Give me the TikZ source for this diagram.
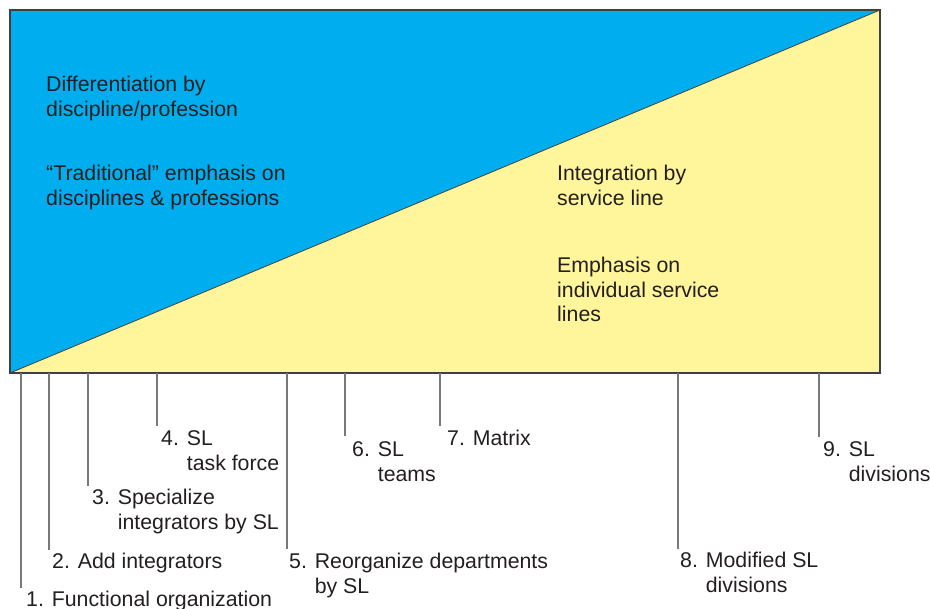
\documentclass[tikz,border=0pt]{standalone}
\usepackage{fontspec}
\setmainfont{Liberation Sans}
\definecolor{skyblue}{RGB}{0,174,239}
\definecolor{paleyellow}{RGB}{255,245,155}
\definecolor{inkgray}{RGB}{35,31,32}
\definecolor{edgegray}{RGB}{64,64,64}
\definecolor{tickgray}{RGB}{120,120,120}
% fixed-height strut so every label's top sits a known distance above its first baseline
\newcommand\lnstrut{\rule{0pt}{16pt}}
\begin{document}
\begin{tikzpicture}[x=1pt,y=-1pt,
  txt/.style={anchor=north west, inner sep=0pt, align=left, text=inkgray,
              font=\fontsize{21.3}{24.9}\selectfont},
  tickline/.style={draw=tickgray, line width=1.2pt},
  ]
\useasboundingbox (0,0) rectangle (930,609);

% the two triangles of the box
\coordinate (tl) at (10,10);
\coordinate (tr) at (880,10);
\coordinate (bl) at (10,373);
\coordinate (br) at (880,373);
\fill[skyblue] (bl) -- (tl) -- (tr) -- cycle;
\fill[paleyellow] (bl) -- (tr) -- (br) -- cycle;
\draw[edgegray, line width=0.8pt] (bl) -- (tr);
\draw[edgegray, line width=1.3pt] (tl) rectangle (br);

% texts inside the box
\node[txt] (diff) at (46,75) {\lnstrut Differentiation by\\discipline/profession};
\node[txt] (trad) at (46,164) {\lnstrut “Traditional” emphasis on\\disciplines \& professions};
\node[txt] (integ) at (557,164) {\lnstrut Integration by\\service line};
\node[txt] (emph) at (557,256) {\lnstrut Emphasis on\\individual service\\lines};

% stages along the bottom edge
\coordinate (a1) at (21,373);  \coordinate (b1) at (21,588);
\coordinate (a2) at (49,373);  \coordinate (b2) at (49,550);
\coordinate (a3) at (88,373);  \coordinate (b3) at (88,486);
\coordinate (a4) at (157,373); \coordinate (b4) at (157,426);
\coordinate (a5) at (287,373); \coordinate (b5) at (287,549);
\coordinate (a6) at (345,373); \coordinate (b6) at (345,436);
\coordinate (a7) at (440,373); \coordinate (b7) at (440,426);
\coordinate (a8) at (678,373); \coordinate (b8) at (678,549);
\coordinate (a9) at (819,373); \coordinate (b9) at (819,437);

\draw[tickline] (a1) -- (b1);
\draw[tickline] (a2) -- (b2);
\draw[tickline] (a3) -- (b3);
\draw[tickline] (a4) -- (b4);
\draw[tickline] (a5) -- (b5);
\draw[tickline] (a6) -- (b6);
\draw[tickline] (a7) -- (b7);
\draw[tickline] (a8) -- (b8);
\draw[tickline] (a9) -- (b9);

\node[txt] (s1) at (26,590) {\lnstrut 1. Functional organization};
\node[txt] (s2) at (52,552) {\lnstrut 2. Add integrators};
\node[txt] (s3) at (92,488) {\lnstrut 3. Specialize\\\phantom{3. }integrators by SL};
\node[txt] (s4) at (161,429) {\lnstrut 4. SL\\\phantom{4. }task force};
\node[txt] (s5) at (289,552) {\lnstrut 5. Reorganize departments\\\phantom{5. }by SL};
\node[txt] (s6) at (352,440) {\lnstrut 6. SL\\\phantom{6. }teams};
\node[txt] (s7) at (447,429) {\lnstrut 7. Matrix};
\node[txt] (s8) at (680,551) {\lnstrut 8. Modified SL\\\phantom{8. }divisions};
\node[txt] (s9) at (823,440) {\lnstrut 9. SL\\\phantom{9. }divisions};
\end{tikzpicture}
\end{document}
